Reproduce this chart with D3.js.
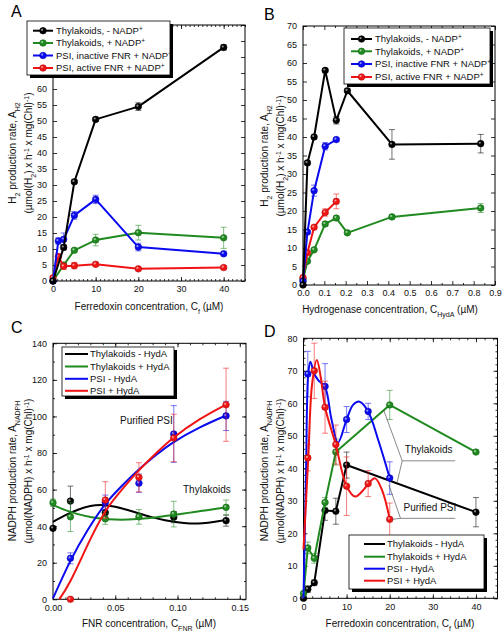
<!DOCTYPE html>
<html><head><meta charset="utf-8">
<script src="https://cdn.jsdelivr.net/npm/d3@7"></script>
<style>body{margin:0;background:#fff;} svg{display:block;font-family:"Liberation Sans",Arial,sans-serif;}</style>
</head><body><svg id="c" width="504" height="632"></svg>
<script>
// ---------- DATA ----------
// Panel A: H2 production vs ferredoxin concentration (uM)
const aBlackX = [0, 2.5, 5, 10, 20, 40];
const aBlackY = [0, 10.5, 31, 50.5, 54.5, 73];
const aBlackE = [0, 0.8, 0.6, 0.6, 1.2, 0.8];
const aGreenX = [0, 2.5, 5, 10, 20, 40];
const aGreenY = [0, 5, 9.6, 12.8, 15.1, 13.5];
const aGreenE = [0, 0.5, 0.5, 1.8, 2.3, 3.3];
const aBlueX = [0, 1.25, 2.5, 5, 10, 20, 40];
const aBlueY = [0, 12.5, 13, 20.5, 25.5, 10.6, 8.5];
const aBlueE = [0, 1, 2, 1.2, 1.3, 1.2, 0.5];
const aRedX = [0, 1.25, 2.5, 5, 10, 20, 40];
const aRedY = [1, 7.6, 4.6, 4.8, 5.2, 3.8, 4.2];
const aRedE = [0, 1, 1, 1, 0.6, 0.4, 0.6];
const aXTicks = [0, 10, 20, 30, 40];
const aYTicks = [0, 5, 10, 15, 20, 25, 30, 35, 40, 45, 50, 55, 60, 65, 70, 75, 80];

// Panel B: H2 production vs hydrogenase concentration (uM)
const bBlackX = [0, 0.0208, 0.052, 0.104, 0.156, 0.208, 0.417, 0.833];
const bBlackY = [0, 33, 40, 58, 44.5, 52.5, 38, 38.2];
const bBlackE = [0, 0.5, 0.5, 0.5, 1, 0.5, 4, 2.5];
const bGreenX = [0, 0.0208, 0.052, 0.104, 0.156, 0.208, 0.417, 0.833];
const bGreenY = [1.5, 6.4, 9.5, 16.5, 18.1, 14.1, 18.4, 20.8];
const bGreenE = [0, 0.4, 0.4, 0.5, 0.5, 0.4, 0.5, 1.2];
const bBlueX = [0, 0.0208, 0.052, 0.104, 0.156];
const bBlueY = [1, 14.3, 25.5, 37.5, 39.3];
const bBlueE = [0, 0.5, 1.5, 1, 0.5];
const bRedX = [0, 0.0208, 0.052, 0.104, 0.156];
const bRedY = [2, 8.7, 15.6, 19.6, 22.6];
const bRedE = [0, 0.5, 0.5, 1, 2];
const bXTicks = [0, 0.1, 0.2, 0.3, 0.4, 0.5, 0.6, 0.7, 0.8, 0.9];
const bYTicks = [0, 5, 10, 15, 20, 25, 30, 35, 40, 45, 50, 55, 60, 65, 70];

// Panel C: NADPH production vs FNR concentration (uM)
const cBlackX = [0, 0.014, 0.042, 0.097, 0.139];
const cBlackY = [38.8, 53.7, 47.4, 44.9, 43];
const cBlackE = [0, 8.2, 4, 3, 3];
const cGreenX = [0, 0.014, 0.042, 0.069, 0.097, 0.139];
const cGreenY = [52.8, 45.1, 44, 45.1, 46.6, 50.3];
const cGreenE = [2, 8, 3, 4, 7, 4];
const cBlueX = [0.014, 0.042, 0.069, 0.097, 0.139];
const cBlueY = [22.4, 53, 63.5, 90.4, 100.3];
const cBlueE = [3, 4, 5, 15.5, 8];
const cRedX = [0.014, 0.042, 0.069, 0.097, 0.139];
const cRedY = [0, 54.3, 66.7, 88.2, 106.4];
const cRedE = [0, 10, 8, 13, 20];
// fitted curves
const cBlackFitX = [0, 0.01, 0.02, 0.03, 0.04, 0.05, 0.06, 0.07, 0.08, 0.09, 0.1, 0.11, 0.12, 0.13, 0.139];
const cBlackFitY = [42.4, 46, 49, 51, 51.5, 50.6, 48.8, 46.8, 44.8, 43.2, 42.1, 41.5, 41.6, 42.4, 43.4];
const cGreenFitX = [0, 0.01, 0.02, 0.03, 0.04, 0.05, 0.06, 0.07, 0.08, 0.09, 0.1, 0.11, 0.12, 0.13, 0.139];
const cGreenFitY = [51.5, 48.8, 46.6, 45, 44, 43.6, 43.6, 44, 44.6, 45.5, 46.4, 47.4, 48.4, 49.4, 50.2];
const cBlueFitX = [0, 0.014, 0.028, 0.042, 0.056, 0.069, 0.083, 0.097, 0.118, 0.139];
const cBlueFitY = [0.5, 21, 38, 52, 62.5, 71, 79, 86, 94, 100.5];
const cRedFitX = [0.005, 0.014, 0.028, 0.042, 0.056, 0.069, 0.083, 0.097, 0.118, 0.139];
const cRedFitY = [0, 10, 30, 48, 60.5, 70.5, 80, 88.5, 98.5, 106.5];
const cXTicks = [0, 0.05, 0.1, 0.15];
const cYTicks = [0, 20, 40, 60, 80, 100, 120, 140];

// Panel D: NADPH production vs ferredoxin concentration (uM)
const dBlackX = [0, 1, 2.5, 5, 7.5, 10, 40];
const dBlackY = [0, 2.8, 4.8, 27, 26.8, 41, 26.5];
const dBlackE = [0, 1, 0.8, 3, 4, 4, 4.5];
const dGreenX = [0, 1, 2.5, 5, 7.5, 20, 40];
const dGreenY = [1.5, 15.5, 12.3, 29.5, 45, 59.5, 45];
const dGreenE = [0, 1.8, 1.5, 1.5, 4, 4.5, 0];
const dBlueX = [1, 5, 10, 15, 20];
const dBlueY = [69, 65.2, 55, 57.5, 37];
const dBlueE = [7, 7, 4, 2.5, 5];
const dRedX = [1, 2.5, 5, 7.5, 10, 15, 20];
const dRedY = [43.2, 70, 58.8, 47.3, 34.5, 35.3, 24.3];
const dRedE = [4, 8.5, 8, 6, 9, 4, 5];
const dBlueFitX = [0, 0.6, 1.1, 1.6, 2.5, 3.5, 5, 6.5, 8, 10, 11.5, 13, 15, 17.5, 20];
const dBlueFitY = [0, 40, 69, 72.8, 69, 67, 65, 55, 47.9, 55, 59.5, 60.5, 57.5, 48, 37];
const dRedFitX = [0, 1.1, 2, 3.1, 4, 5, 7.5, 10, 12, 14, 15, 16.6, 18.3, 20];
const dRedFitY = [15, 43, 66, 73.3, 68, 58.8, 47.2, 34.5, 31.3, 33.5, 35.2, 36.9, 33, 24.3];
const dXTicks = [0, 10, 20, 30, 40];
const dYTicks = [0, 10, 20, 30, 40, 50, 60, 70, 80];

const legendAB = ["Thylakoids, - NADP", "Thylakoids, + NADP", "PSI, inactive FNR + NADP", "PSI, active FNR + NADP"];
const legendCD = ["Thylakoids - HydA", "Thylakoids + HydA", "PSI - HydA", "PSI + HydA"];

// ---------- DRAWING ----------
const COL = {black: "#000000", green: "#1f8a1f", blue: "#0a0af0", red: "#f01414"};
const svg = d3.select("#c");
const zip = (xs, ys, es) => xs.map((x, i) => ({x, y: ys[i], e: es ? es[i] : 0}));

function frame(p) {
  const g = svg.append("g");
  const [x0, x1] = p.x.range(), [y0, y1] = p.y.range();
  const mk = (axis, tr) => {
    const a = g.append("g").attr("transform", tr).call(axis);
    a.select(".domain").remove();
    a.selectAll("text").attr("font-size", 9).attr("font-family", "Liberation Sans, Arial, sans-serif").attr("fill", "#111");
    a.selectAll("line").attr("stroke", "#000").attr("stroke-width", 0.8);
    return a;
  };
  mk(d3.axisBottom(p.x).tickValues(p.xt).tickSize(-4).tickPadding(5).tickFormat(p.xf), `translate(0,${y0})`);
  mk(d3.axisTop(p.x).tickValues(p.xt).tickSize(-4).tickFormat(""), `translate(0,${y1})`);
  mk(d3.axisLeft(p.y).tickValues(p.yt).tickSize(-4).tickPadding(6).tickFormat(p.yf), `translate(${x0},0)`);
  mk(d3.axisRight(p.y).tickValues(p.yt).tickSize(-4).tickFormat(""), `translate(${x1},0)`);
  if (p.xm) {
    mk(d3.axisBottom(p.x).tickValues(p.xm).tickSize(-2).tickFormat(""), `translate(0,${y0})`);
    mk(d3.axisTop(p.x).tickValues(p.xm).tickSize(-2).tickFormat(""), `translate(0,${y1})`);
  }
  if (p.ym) {
    mk(d3.axisLeft(p.y).tickValues(p.ym).tickSize(-2).tickFormat(""), `translate(${x0},0)`);
    mk(d3.axisRight(p.y).tickValues(p.ym).tickSize(-2).tickFormat(""), `translate(${x1},0)`);
  }
  g.append("rect").attr("x", x0).attr("y", y1).attr("width", x1 - x0).attr("height", y0 - y1)
    .attr("fill", "none").attr("stroke", "#000").attr("stroke-width", 1);
}

function errbars(p, pts, col) {
  const g = svg.append("g").attr("stroke", col).attr("stroke-opacity", 0.55).attr("stroke-width", 1);
  pts.filter(d => d.e > 0).forEach(d => {
    const cx = p.x(d.x), t = p.y(d.y + d.e), b = p.y(d.y - d.e);
    g.append("line").attr("x1", cx).attr("x2", cx).attr("y1", t).attr("y2", b);
    g.append("line").attr("x1", cx - 3).attr("x2", cx + 3).attr("y1", t).attr("y2", t);
    g.append("line").attr("x1", cx - 3).attr("x2", cx + 3).attr("y1", b).attr("y2", b);
  });
}
function line(p, pts, col, curve) {
  svg.append("path").datum(pts)
    .attr("d", d3.line().x(d => p.x(d.x)).y(d => p.y(d.y)).curve(curve || d3.curveLinear))
    .attr("fill", "none").attr("stroke", col).attr("stroke-width", 2).attr("stroke-linejoin", "round");
}
function marker(g, cx, cy, col) {
  g.append("circle").attr("cx", cx).attr("cy", cy).attr("r", 3.3)
    .attr("fill", col).attr("stroke", d3.color(col).darker(0.8)).attr("stroke-width", 0.6);
  g.append("circle").attr("cx", cx - 0.9).attr("cy", cy - 0.9).attr("r", 1.1)
    .attr("fill", "#fff").attr("fill-opacity", 0.55);
}
function markers(p, pts, col) {
  const g = svg.append("g");
  pts.forEach(d => marker(g, p.x(d.x), p.y(d.y), col));
}
function series(p, xs, ys, es, col, withMarkers = true, fit) {
  const pts = zip(xs, ys, es);
  errbars(p, pts, col);
  if (fit) line(p, fit.pts, col, fit.curve);
  else line(p, pts, col);
  if (withMarkers) markers(p, pts, col);
}

function legend(box, labels, rows, lx, tx, withMarkers, sup) {
  const g = svg.append("g");
  g.append("rect").attr("x", box[0] + 3).attr("y", box[1] + 3).attr("width", box[2]).attr("height", box[3]).attr("fill", "#000");
  g.append("rect").attr("x", box[0]).attr("y", box[1]).attr("width", box[2]).attr("height", box[3])
    .attr("fill", "#fff").attr("stroke", "#000").attr("stroke-width", 0.8);
  const cols = [COL.black, COL.green, COL.blue, COL.red];
  labels.forEach((lab, i) => {
    g.append("line").attr("x1", lx[0]).attr("x2", lx[1]).attr("y1", rows[i]).attr("y2", rows[i])
      .attr("stroke", cols[i]).attr("stroke-width", 2);
    if (withMarkers) marker(g, (lx[0] + lx[1]) / 2, rows[i], cols[i]);
    const t = g.append("text").attr("x", tx).attr("y", rows[i]).attr("dy", "0.35em")
      .attr("font-size", 9.5).attr("fill", "#111").text(lab);
    if (sup) t.append("tspan").attr("baseline-shift", "super").attr("font-size", 6.5).text("+");
  });
}

function ylabel(cx1, cx2, cy, first, firstSub) {
  const t1 = svg.append("text").attr("transform", `translate(${cx1},${cy}) rotate(-90)`)
    .attr("text-anchor", "middle").attr("dy", "0.35em").attr("font-size", 10).attr("fill", "#111");
  first.forEach(s => {
    const ts = t1.append("tspan").text(s[0]);
    if (s[1]) ts.attr("baseline-shift", s[1]).attr("font-size", 7);
  });
  const t2 = svg.append("text").attr("transform", `translate(${cx2},${cy}) rotate(-90)`)
    .attr("text-anchor", "middle").attr("dy", "0.35em").attr("font-size", 10).attr("fill", "#111");
  firstSub.forEach(s => {
    const ts = t2.append("tspan").text(s[0]);
    if (s[1]) ts.attr("baseline-shift", s[1]).attr("font-size", 7);
  });
}
function xlabel(cx, cy, parts) {
  const t = svg.append("text").attr("x", cx).attr("y", cy).attr("text-anchor", "middle")
    .attr("dy", "0.35em").attr("font-size", 10).attr("fill", "#111");
  parts.forEach(s => {
    const ts = t.append("tspan").text(s[0]);
    if (s[1]) ts.attr("baseline-shift", s[1]).attr("font-size", 7);
  });
}
function letter(x, y, s) {
  svg.append("text").attr("x", x).attr("y", y).attr("font-size", 16).attr("fill", "#000").text(s);
}

// ---- Panel A ----
const pA = {x: d3.scaleLinear([0, 45], [53, 245]), y: d3.scaleLinear([0, 80], [281, 25]),
  xt: aXTicks, yt: aYTicks, xm: d3.range(0, 46, 1), xf: d3.format("d"), yf: d3.format("d")};
frame(pA);
series(pA, aGreenX, aGreenY, aGreenE, COL.green);
series(pA, aRedX, aRedY, aRedE, COL.red);
series(pA, aBlueX, aBlueY, aBlueE, COL.blue);
series(pA, aBlackX, aBlackY, aBlackE, COL.black);
legend([27, 21, 143, 54], legendAB, [30.7, 43, 55.5, 68], [33, 53], 56, true, true);
letter(11, 17, "A");
ylabel(12, 28, 153, [["H"], ["2", "sub"], [" production rate, A"], ["H2", "sub"]],
  [["(µmol(H"], ["2", "sub"], [") x h"], ["-1", "super"], [" x mg(Chl)"], ["-1", "super"], [")"]]);
xlabel(149, 306, [["Ferredoxin concentration, C"], ["f", "sub"], [" (µM)"]]);

// ---- Panel B ----
const pB = {x: d3.scaleLinear([0, 0.9], [303, 495]), y: d3.scaleLinear([0, 70], [285, 26]),
  xt: bXTicks, yt: bYTicks, xm: d3.range(0.05, 0.9, 0.1), xf: d3.format(".1f"), yf: d3.format("d")};
frame(pB);
series(pB, bGreenX, bGreenY, bGreenE, COL.green);
series(pB, bRedX, bRedY, bRedE, COL.red);
series(pB, bBlueX, bBlueY, bBlueE, COL.blue);
series(pB, bBlackX, bBlackY, bBlackE, COL.black);
legend([344, 28, 146, 56], legendAB, [39, 51.3, 64, 77], [351, 372], 375, true, true);
letter(264, 20, "B");
ylabel(264, 280, 156, [["H"], ["2", "sub"], [" production rate, A"], ["H2", "sub"]],
  [["(µmol(H"], ["2", "sub"], [") x h"], ["-1", "super"], [" x mg(Chl)"], ["-1", "super"], [")"]]);
xlabel(390, 309, [["Hydrogenase concentration, C"], ["HydA", "sub"], [" (µM)"]]);

// ---- Panel C ----
const pC = {x: d3.scaleLinear([0, 0.155], [53, 246]), y: d3.scaleLinear([0, 140], [599.3, 343.3]),
  xt: cXTicks, yt: cYTicks, xm: d3.range(0.01, 0.155, 0.01), ym: d3.range(10, 140, 10), xf: d3.format(".2f"), yf: d3.format("d")};
frame(pC);
const nat = d3.curveNatural;
series(pC, cBlackX, cBlackY, cBlackE, COL.black, true, {pts: zip(cBlackFitX, cBlackFitY), curve: nat});
series(pC, cGreenX, cGreenY, cGreenE, COL.green, true, {pts: zip(cGreenFitX, cGreenFitY), curve: nat});
series(pC, cBlueX, cBlueY, cBlueE, COL.blue, true, {pts: zip(cBlueFitX, cBlueFitY), curve: nat});
series(pC, cRedX, cRedY, cRedE, COL.red, true, {pts: zip(cRedFitX, cRedFitY), curve: nat});
legend([62, 347, 112, 49], legendCD, [354, 366.5, 378.8, 390.8], [65, 88], 90, false, false);
letter(11, 333, "C");
svg.append("text").attr("x", 120).attr("y", 420).attr("dy", "0.35em").attr("font-size", 10).attr("fill", "#111").text("Purified PSI");
svg.append("text").attr("x", 183).attr("y", 489).attr("dy", "0.35em").attr("font-size", 10).attr("fill", "#111").text("Thylakoids");
ylabel(12, 28, 471, [["NADPH production rate, A"], ["NADPH", "sub"]],
  [["(µmol(NADPH) x h"], ["-1", "super"], [" x mg(Chl)"], ["-1", "super"], [")"]]);
xlabel(149, 623, [["FNR concentration, C"], ["FNR", "sub"], [" (µM)"]]);

// ---- Panel D ----
const pD = {x: d3.scaleLinear([0, 45], [303.5, 497.5]), y: d3.scaleLinear([0, 80], [598.3, 338.3]),
  xt: dXTicks, yt: dYTicks, xm: d3.range(0, 46, 2), ym: d3.range(0, 81, 2), xf: d3.format("d"), yf: d3.format("d")};
frame(pD);
const cr = d3.curveCatmullRom.alpha(0.5);
series(pD, dBlackX, dBlackY, dBlackE, COL.black);
series(pD, dGreenX, dGreenY, dGreenE, COL.green);
series(pD, dBlueX, dBlueY, dBlueE, COL.blue, true, {pts: zip(dBlueFitX, dBlueFitY), curve: cr});
series(pD, dRedX, dRedY, dRedE, COL.red, true, {pts: zip(dRedFitX, dRedFitY), curve: cr});
// annotation leaders
const ann = svg.append("g").attr("stroke", "#555").attr("stroke-width", 0.7).attr("fill", "none");
const seg = (a, b) => ann.append("line").attr("x1", pD.x(a[0])).attr("y1", pD.y(a[1])).attr("x2", pD.x(b[0])).attr("y2", pD.y(b[1]));
seg([22.9, 42.3], [35.2, 42.3]); seg([22.9, 42.3], [18.6, 57.9]); seg([22.9, 42.3], [21.7, 35.6]);
seg([22.5, 24.6], [35.2, 24.6]); seg([22.5, 24.6], [19.8, 34.9]); seg([22.5, 24.6], [20.6, 24.3]);
svg.append("text").attr("x", pD.x(23.5)).attr("y", pD.y(44.7)).attr("font-size", 10).attr("fill", "#111").text("Thylakoids");
svg.append("text").attr("x", pD.x(23.2)).attr("y", pD.y(27)).attr("font-size", 10).attr("fill", "#111").text("Purified PSI");
legend([349, 535, 135, 54], legendCD, [544, 556.7, 568.7, 580.7], [364, 385], 387, false, false);
letter(264, 337, "D");
ylabel(264, 280, 471, [["NADPH production rate, A"], ["NADPH", "sub"]],
  [["(µmol(NADPH) x h"], ["-1", "super"], [" x mg(Chl)"], ["-1", "super"], [")"]]);
xlabel(400, 623, [["Ferredoxin concentration, C"], ["f", "sub"], [" (µM)"]]);
</script></body></html>
